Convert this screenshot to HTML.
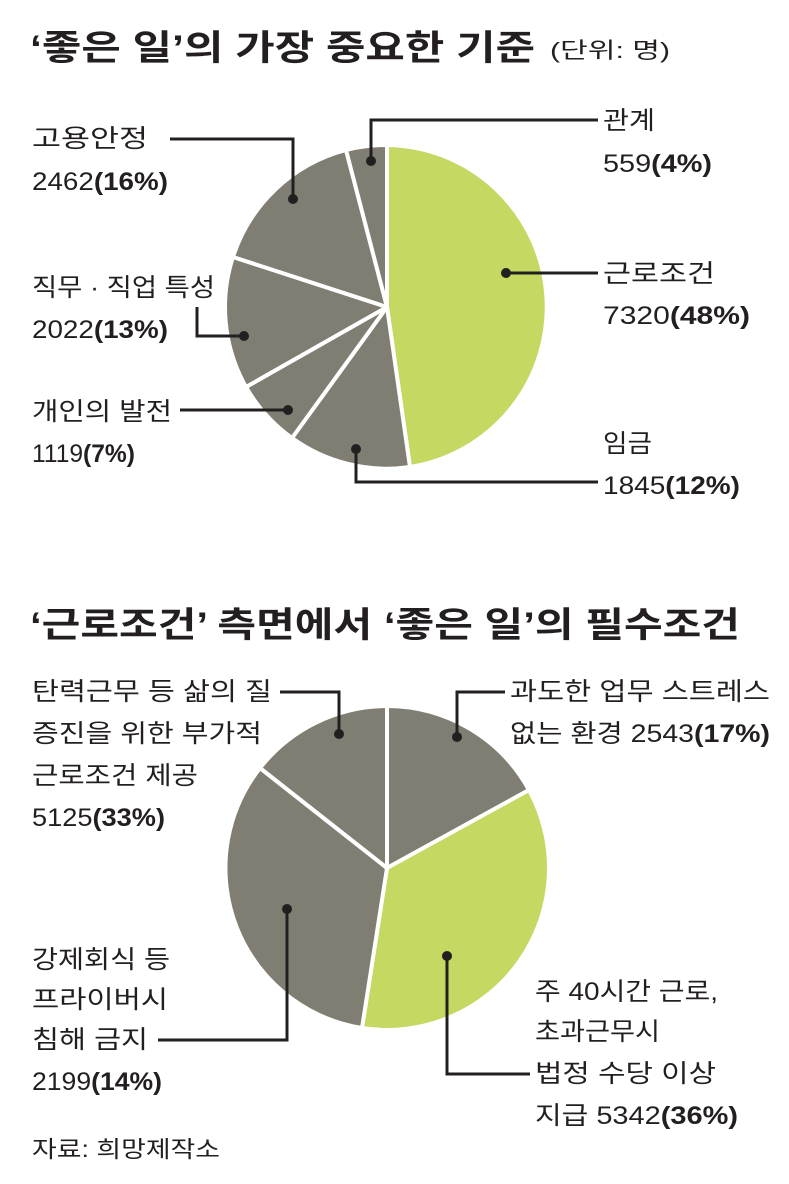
<!DOCTYPE html>
<html><head><meta charset="utf-8"><style>
html,body{margin:0;padding:0;background:#fff}
svg text{font-family:"Liberation Sans","Noto Sans CJK KR",sans-serif;fill:#231f20}
.l{font-size:25px}
.t{font-size:35px;font-weight:bold}
</style></head><body>
<svg width="789" height="1179" viewBox="0 0 789 1179" xmlns="http://www.w3.org/2000/svg">
<text class="t" x="30" y="60" textLength="505" lengthAdjust="spacingAndGlyphs">‘좋은 일’의 가장 중요한 기준</text>
<text x="550" y="58" font-size="22" textLength="120" lengthAdjust="spacingAndGlyphs">(단위: 명)</text>
<g stroke="#fff" stroke-width="4" stroke-linejoin="round">
<path d="M387,307 L387,145 A162,162 0 0 1 410,467 Z" fill="#c5d862"/>
<path d="M387,307 L410,467 A162,162 0 0 1 292,438 Z" fill="#807e72"/>
<path d="M387,307 L292,438 A162,162 0 0 1 246,387 Z" fill="#807e72"/>
<path d="M387,307 L246,387 A162,162 0 0 1 233,257 Z" fill="#807e72"/>
<path d="M387,307 L233,257 A162,162 0 0 1 346,150 Z" fill="#807e72"/>
<path d="M387,307 L346,150 A162,162 0 0 1 387,145 Z" fill="#807e72"/>
</g>
<g stroke="#231f20" stroke-width="3" fill="none">
<polyline points="371,161 371,120 598,120"/>
<polyline points="293,199 293,139 170,139"/>
<polyline points="506,273 598,273"/>
<polyline points="244,336 197,336 197,307"/>
<polyline points="288,410 180,410"/>
<polyline points="356,449 356,482 598,482"/>
</g>
<g fill="#231f20">
<circle cx="371" cy="161" r="5"/><circle cx="293" cy="199" r="5"/><circle cx="506" cy="273" r="5"/>
<circle cx="244" cy="336" r="5"/><circle cx="288" cy="410" r="5"/><circle cx="356" cy="449" r="5"/>
</g>
<g class="l" lengthAdjust="spacingAndGlyphs">
<text class="l" x="603" y="129" textLength="52" lengthAdjust="spacingAndGlyphs">관계</text>
<text class="l" x="603" y="172" textLength="109" lengthAdjust="spacingAndGlyphs">559<tspan font-weight="bold">(4%)</tspan></text>
<text class="l" x="603" y="282" textLength="112" lengthAdjust="spacingAndGlyphs">근로조건</text>
<text class="l" x="603" y="324" textLength="147" lengthAdjust="spacingAndGlyphs">7320<tspan font-weight="bold">(48%)</tspan></text>
<text class="l" x="603" y="452" textLength="49" lengthAdjust="spacingAndGlyphs">임금</text>
<text class="l" x="603" y="494" textLength="137" lengthAdjust="spacingAndGlyphs">1845<tspan font-weight="bold">(12%)</tspan></text>
<text class="l" x="32" y="147" textLength="116" lengthAdjust="spacingAndGlyphs">고용안정</text>
<text class="l" x="32" y="190" textLength="136" lengthAdjust="spacingAndGlyphs">2462<tspan font-weight="bold">(16%)</tspan></text>
<text class="l" x="32" y="296" textLength="183" lengthAdjust="spacingAndGlyphs">직무 · 직업 특성</text>
<text class="l" x="32" y="338" textLength="136" lengthAdjust="spacingAndGlyphs">2022<tspan font-weight="bold">(13%)</tspan></text>
<text class="l" x="32" y="420" textLength="140" lengthAdjust="spacingAndGlyphs">개인의 발전</text>
<text class="l" x="32" y="462" textLength="103" lengthAdjust="spacingAndGlyphs">1119<tspan font-weight="bold">(7%)</tspan></text>
</g>
<text class="t" x="30" y="637" textLength="710" lengthAdjust="spacingAndGlyphs">‘근로조건’ 측면에서 ‘좋은 일’의 필수조건</text>
<g stroke="#fff" stroke-width="4" stroke-linejoin="round">
<path d="M387,868 L387,706 A162,162 0 0 1 529,790 Z" fill="#807e72"/>
<path d="M387,868 L529,790 A162,162 0 0 1 362,1028 Z" fill="#c5d862"/>
<path d="M387,868 L362,1028 A162,162 0 0 1 260,768 Z" fill="#807e72"/>
<path d="M387,868 L260,768 A162,162 0 0 1 387,706 Z" fill="#807e72"/>
</g>
<g stroke="#231f20" stroke-width="3" fill="none">
<polyline points="339,734 339,692 280,692"/>
<polyline points="457,737 457,692 505,692"/>
<polyline points="287,909 287,1040 158,1040"/>
<polyline points="447,956 447,1074 530,1074"/>
</g>
<g fill="#231f20">
<circle cx="339" cy="734" r="5"/><circle cx="457" cy="737" r="5"/><circle cx="287" cy="909" r="5"/><circle cx="447" cy="956" r="5"/>
</g>
<text class="l" x="32" y="700" textLength="240" lengthAdjust="spacingAndGlyphs">탄력근무 등 삶의 질</text>
<text class="l" x="32" y="742" textLength="230" lengthAdjust="spacingAndGlyphs">증진을 위한 부가적</text>
<text class="l" x="32" y="784" textLength="166" lengthAdjust="spacingAndGlyphs">근로조건 제공</text>
<text class="l" x="32" y="826" textLength="133" lengthAdjust="spacingAndGlyphs">5125<tspan font-weight="bold">(33%)</tspan></text>
<text class="l" x="510" y="700" textLength="260" lengthAdjust="spacingAndGlyphs">과도한 업무 스트레스</text>
<text class="l" x="510" y="742" textLength="260" lengthAdjust="spacingAndGlyphs">없는 환경 2543<tspan font-weight="bold">(17%)</tspan></text>
<text class="l" x="32" y="968" textLength="138" lengthAdjust="spacingAndGlyphs">강제회식 등</text>
<text class="l" x="32" y="1008" textLength="136" lengthAdjust="spacingAndGlyphs">프라이버시</text>
<text class="l" x="32" y="1048" textLength="116" lengthAdjust="spacingAndGlyphs">침해 금지</text>
<text class="l" x="32" y="1090" textLength="130" lengthAdjust="spacingAndGlyphs">2199<tspan font-weight="bold">(14%)</tspan></text>
<text class="l" x="535" y="1000" textLength="183" lengthAdjust="spacingAndGlyphs">주 40시간 근로,</text>
<text class="l" x="535" y="1040" textLength="125" lengthAdjust="spacingAndGlyphs">초과근무시</text>
<text class="l" x="535" y="1082" textLength="181" lengthAdjust="spacingAndGlyphs">법정 수당 이상</text>
<text class="l" x="535" y="1124" textLength="203" lengthAdjust="spacingAndGlyphs">지급 5342<tspan font-weight="bold">(36%)</tspan></text>
<text x="32" y="1157" font-size="23" textLength="188" lengthAdjust="spacingAndGlyphs">자료: 희망제작소</text>
</svg>
</body></html>
